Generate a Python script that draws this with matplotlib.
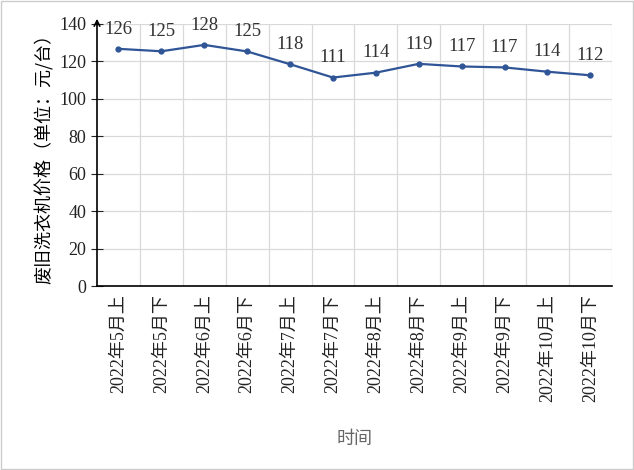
import matplotlib
matplotlib.use("Agg")
import matplotlib.pyplot as plt
from matplotlib.patches import Rectangle

plt.rcParams["font.family"] = ["Liberation Serif", "Noto Sans CJK SC"]

periods = ["2022年5月上", "2022年5月下", "2022年6月上", "2022年6月下",
           "2022年7月上", "2022年7月下", "2022年8月上", "2022年8月下",
           "2022年9月上", "2022年9月下", "2022年10月上", "2022年10月下"]
prices = [126.5, 125.2, 128.6, 125.1, 118.3, 111.2, 113.8, 118.5,
          117.1, 116.6, 114.3, 112.4]
labels = ["126", "125", "128", "125", "118", "111", "114", "119",
          "117", "117", "114", "112"]

fig = plt.figure(figsize=(6.34, 4.7), dpi=100)
fig.patches.append(Rectangle((0.002, 0.002), 0.996, 0.996, transform=fig.transFigure,
                             fill=False, edgecolor="#cccccc", linewidth=1))
ax = fig.add_axes([0.153, 0.391, 0.812, 0.559])

x = list(range(len(prices)))
ax.plot(x, prices, color="#2f5597", linewidth=1.6, marker="o", markersize=3.5)
for xi, yi, lab in zip(x, prices, labels):
    ax.text(xi, yi + 6, lab, ha="center", va="bottom", fontsize=13.5, color="#333333")

ax.set_xlim(-0.5, len(prices) - 0.5)
ax.set_ylim(0, 140)
ax.set_yticks(range(0, 141, 20))
ax.set_xticks(x)
ax.set_xticklabels(periods, rotation=90, fontsize=13, color="#222222")
ax.tick_params(axis="y", labelsize=13, colors="#222222", direction="inout", length=8)
ax.tick_params(axis="x", length=0, pad=6)

for b in [i + 0.5 for i in x]:
    ax.axvline(b, color="#d9d9d9", linewidth=0.9, zorder=0)
for v in range(20, 141, 20):
    ax.axhline(v, color="#d9d9d9", linewidth=0.9, zorder=0)

for s in ["top", "right"]:
    ax.spines[s].set_visible(False)
ax.spines["left"].set_linewidth(1.2)
ax.spines["bottom"].set_linewidth(1.2)
ax.annotate("", xy=(-0.5, 144), xytext=(-0.5, 138), annotation_clip=False,
            arrowprops=dict(arrowstyle="->", color="black", lw=1.2))

ax.set_ylabel("废旧洗衣机价格（单位：元/台）", fontsize=13, family=["Noto Sans CJK SC"])
ax.set_xlabel("时间", fontsize=13, color="#666666", family=["Noto Sans CJK SC"], labelpad=20)

fig.savefig("out.png", dpi=100)
